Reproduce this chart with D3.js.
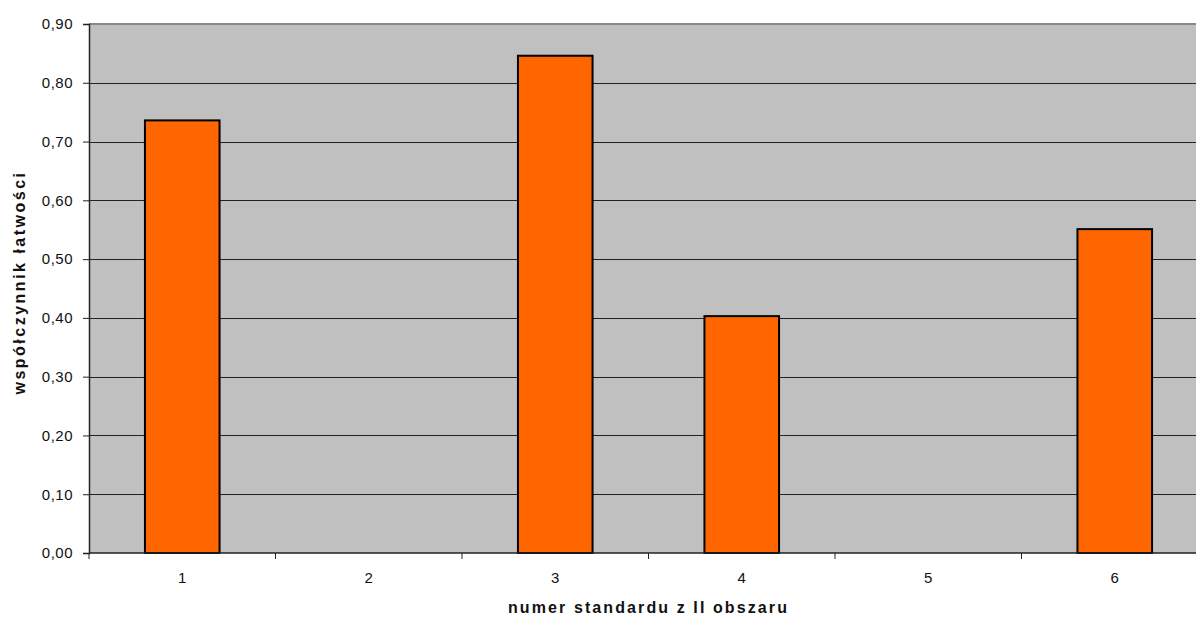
<!DOCTYPE html>
<html><head><meta charset="utf-8">
<script src="https://cdn.jsdelivr.net/npm/d3@7"></script>
<style>body{margin:0;background:#fff;} text{font-family:"Liberation Sans",Arial,sans-serif;}</style>
</head><body>
<svg id="c" width="1196" height="617"></svg>
<script>
const categories = ["1","2","3","4","5","6"];
const values = [0.736, null, 0.846, 0.403, null, 0.551];
const yTicks = [0,0.1,0.2,0.3,0.4,0.5,0.6,0.7,0.8,0.9];
const xTitle = "numer standardu z II obszaru";
const yTitle = "współczynnik łatwości";

const svg = d3.select("#c");
const W = 1196, H = 617;
const m = {l:89, t:24, b:64};
const plotRight = 1208;   // plot area extends past the window edge
const x = d3.scaleBand().domain(categories).range([m.l, plotRight]).paddingInner(0.6).paddingOuter(0.3);
const xb = d3.scaleLinear().domain([0,6]).range([m.l, plotRight]);
const y = d3.scaleLinear().domain([0,0.9]).range([H-m.b, m.t]);

svg.append("rect").attr("x",m.l).attr("y",m.t).attr("width",plotRight-m.l).attr("height",H-m.b-m.t).attr("fill","#c0c0c0");

// gridlines
svg.append("g").selectAll("line").data(yTicks.filter(d=>d>0 && d<0.9)).join("line")
  .attr("x1",m.l).attr("x2",plotRight).attr("y1",d=>Math.round(y(d))+0.5).attr("y2",d=>Math.round(y(d))+0.5)
  .attr("stroke","#222").attr("stroke-width",1);
// top border
svg.append("line").attr("x1",m.l).attr("x2",plotRight).attr("y1",y(0.9)).attr("y2",y(0.9)).attr("stroke","#888").attr("stroke-width",2);

// bars
svg.append("g").selectAll("rect").data(categories.map((c,i)=>({c,v:values[i]})).filter(d=>d.v!=null)).join("rect")
  .attr("x",d=>x(d.c)).attr("width",x.bandwidth())
  .attr("y",d=>y(d.v)).attr("height",d=>y(0)-y(d.v))
  .attr("fill","#ff6600").attr("stroke","#000").attr("stroke-width",2);

// y axis
const ya = d3.axisLeft(y).tickValues(yTicks).tickSize(6).tickPadding(10).tickFormat(d=>d3.format(".2f")(d).replace(".",","));
const yg = svg.append("g").attr("transform",`translate(${m.l},0)`).call(ya);
yg.select(".domain").attr("stroke","#222").attr("stroke-width",1.5);
yg.selectAll(".tick line").attr("stroke","#222");
yg.selectAll(".tick text").attr("font-size",15).attr("fill","#111").attr("letter-spacing","0.5");

// x axis
const xg = svg.append("g").attr("transform",`translate(0,${H-m.b})`);
xg.append("line").attr("x1",m.l).attr("x2",plotRight).attr("stroke","#222").attr("stroke-width",1.5);
xg.selectAll("line.t").data(d3.range(0,7)).join("line").attr("class","t")
  .attr("x1",d=>xb(d)).attr("x2",d=>xb(d)).attr("y1",0).attr("y2",6).attr("stroke","#222");
xg.selectAll("text").data(categories).join("text")
  .attr("x",d=>x(d)+x.bandwidth()/2).attr("y",30).attr("text-anchor","middle").attr("font-size",15).attr("fill","#111").text(d=>d);

svg.append("text").attr("x",(m.l+plotRight)/2).attr("y",613).attr("text-anchor","middle")
  .attr("font-size",16).attr("font-weight","bold").attr("fill","#111").attr("letter-spacing","2.1").text(xTitle);
svg.append("text").attr("transform",`translate(25,${(m.t+H-m.b)/2-6}) rotate(-90)`).attr("text-anchor","middle")
  .attr("font-size",16).attr("font-weight","bold").attr("fill","#111").attr("letter-spacing","2.5").text(yTitle);
</script>
</body></html>
